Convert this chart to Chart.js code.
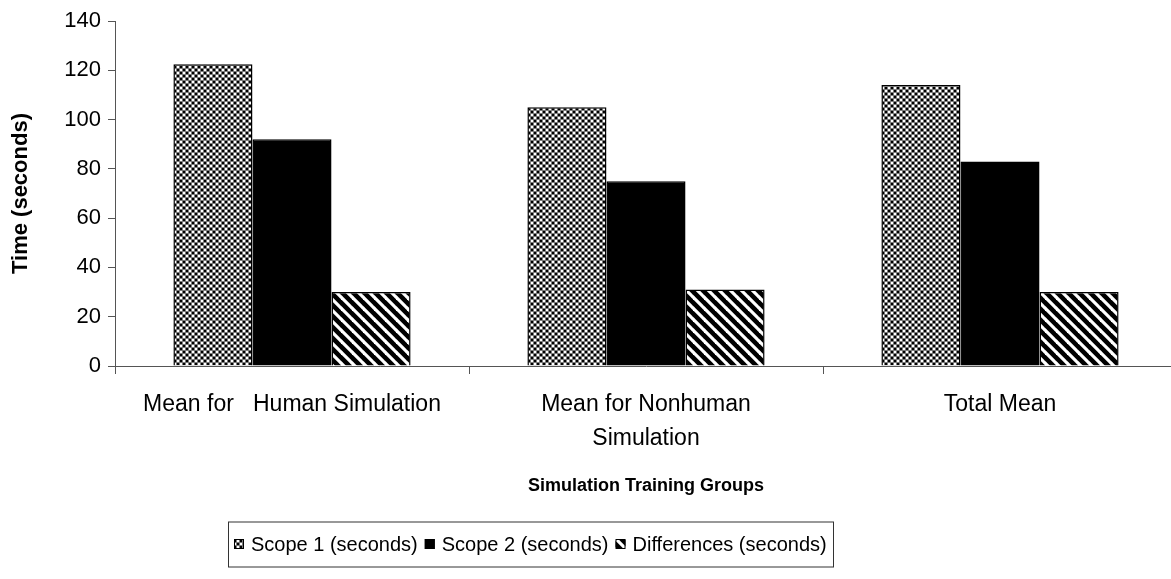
<!DOCTYPE html>
<html>
<head>
<meta charset="utf-8">
<script src="https://cdn.jsdelivr.net/npm/chart.js@4/dist/chart.umd.min.js"></script>
<style>
  html,body{margin:0;padding:0;background:#fff;overflow:hidden;}
  #wrap{width:1190px;height:579px;}
</style>
</head>
<body>
<div id="wrap"><canvas id="chart" width="1190" height="579"></canvas></div>
<script>
// ---------------------
// data
// ---------------------
const groupLabels = ["Mean for   Human Simulation", ["Mean for Nonhuman", "Simulation"], "Total Mean"];
const seriesNames = ["Scope 1 (seconds)", "Scope 2 (seconds)", "Differences (seconds)"];
const scope1 = [122.5, 105, 114];
const scope2 = [92, 75, 83];
const diffs = [30, 31, 30];
const yTicks = [0, 20, 40, 60, 80, 100, 120, 140];

const FONT = "'Liberation Sans', Arial, sans-serif";
const AXIS = "#555";

// ---------------------
// fill patterns
// ---------------------
function checkerPattern(){
  const c = document.createElement("canvas");
  c.width = 6; c.height = 6;
  const g = c.getContext("2d");
  g.fillStyle = "#7a7a7a"; g.fillRect(0,0,6,6);
  g.fillStyle = "#000"; g.fillRect(0,0,2,2); g.fillRect(3,3,2,2);
  g.fillStyle = "#fff"; g.fillRect(3,0,2,2); g.fillRect(0,3,2,2);
  return g.createPattern(c,"repeat");
}
function stripePattern(){
  const s = 11;
  const c = document.createElement("canvas");
  c.width = s; c.height = s;
  const g = c.getContext("2d");
  g.fillStyle = "#000"; g.fillRect(0,0,s,s);
  g.strokeStyle = "#fff"; g.lineWidth = 3.2;
  [-s,0,s].forEach(o=>{
    g.beginPath(); g.moveTo(o-1,-1); g.lineTo(o+s+1,s+1); g.stroke();
  });
  return g.createPattern(c,"repeat");
}
const fills = [checkerPattern(), "#000", stripePattern()];

// ---------------------
// boxed legend under the chart
// ---------------------
const boxLegend = {
  id:"boxLegend",
  afterDraw(chart){
    const ctx = chart.ctx;
    const cx = 530, cy = 544;
    const sw = 10, gapText = 7, gapItem = 7, padX = 6, boxH = 45;
    ctx.save();
    ctx.font = "20px " + FONT;
    const widths = chart.data.datasets.map(d=>ctx.measureText(d.label).width);
    let total = 0;
    widths.forEach((w,i)=>{ total += sw + gapText + w + (i<widths.length-1?gapItem:0); });
    const left = Math.round(cx - total/2 - padX);
    ctx.strokeStyle = "#333"; ctx.lineWidth = 1;
    ctx.strokeRect(left+0.5, cy-boxH/2+0.5, Math.round(total+2*padX), boxH);
    let x = left + padX;
    ctx.textBaseline = "middle";
    chart.data.datasets.forEach((d,i)=>{
      ctx.fillStyle = d.backgroundColor;
      ctx.fillRect(x, cy-sw/2, sw, sw);
      ctx.strokeStyle = "#000"; ctx.lineWidth = 1;
      ctx.strokeRect(x+0.5, cy-sw/2+0.5, sw-1, sw-1);
      x += sw + gapText;
      ctx.fillStyle = "#000";
      ctx.fillText(d.label, x, cy+1);
      x += widths[i] + gapItem;
    });
    ctx.restore();
  }
};

// ---------------------
// chart
// ---------------------
new Chart(document.getElementById("chart"),{
  type:"bar",
  data:{
    labels:groupLabels,
    datasets:[scope1,scope2,diffs].map((vals,i)=>({
      label:seriesNames[i],
      data:vals,
      backgroundColor:fills[i],
      borderColor:"#000",
      borderWidth:1.5,
      categoryPercentage:0.67,
      barPercentage:1
    }))
  },
  options:{
    responsive:false,
    animation:false,
    layout:{padding:{left:0,right:13,top:21,bottom:0}},
    plugins:{legend:{display:false},tooltip:{enabled:false}},
    scales:{
      x:{
        grid:{display:true,drawOnChartArea:false,drawTicks:true,tickLength:8,color:AXIS,offset:true},
        border:{color:AXIS,width:1},
        ticks:{color:"#000",font:{family:FONT,size:23,lineHeight:1.5},padding:13,maxRotation:0,autoSkip:false},
        title:{display:true,text:"Simulation Training Groups",color:"#000",
          font:{family:FONT,size:18,weight:"bold"},padding:{top:0,bottom:82}},
        afterFit(s){ s.height = 579 - 366; }
      },
      y:{
        min:0,max:140,
        afterBuildTicks(s){ s.ticks = yTicks.map(v=>({value:v})); },
        grid:{display:true,drawOnChartArea:false,drawTicks:true,tickLength:7,color:AXIS},
        border:{color:AXIS,width:1},
        ticks:{color:"#000",font:{family:FONT,size:22},padding:7},
        title:{display:true,text:"Time (seconds)",color:"#000",
          font:{family:FONT,size:22,weight:"bold"},padding:{top:8,bottom:0}},
        afterFit(s){ s.width = 115; }
      }
    }
  },
  plugins:[boxLegend]
});
</script>
</body>
</html>
